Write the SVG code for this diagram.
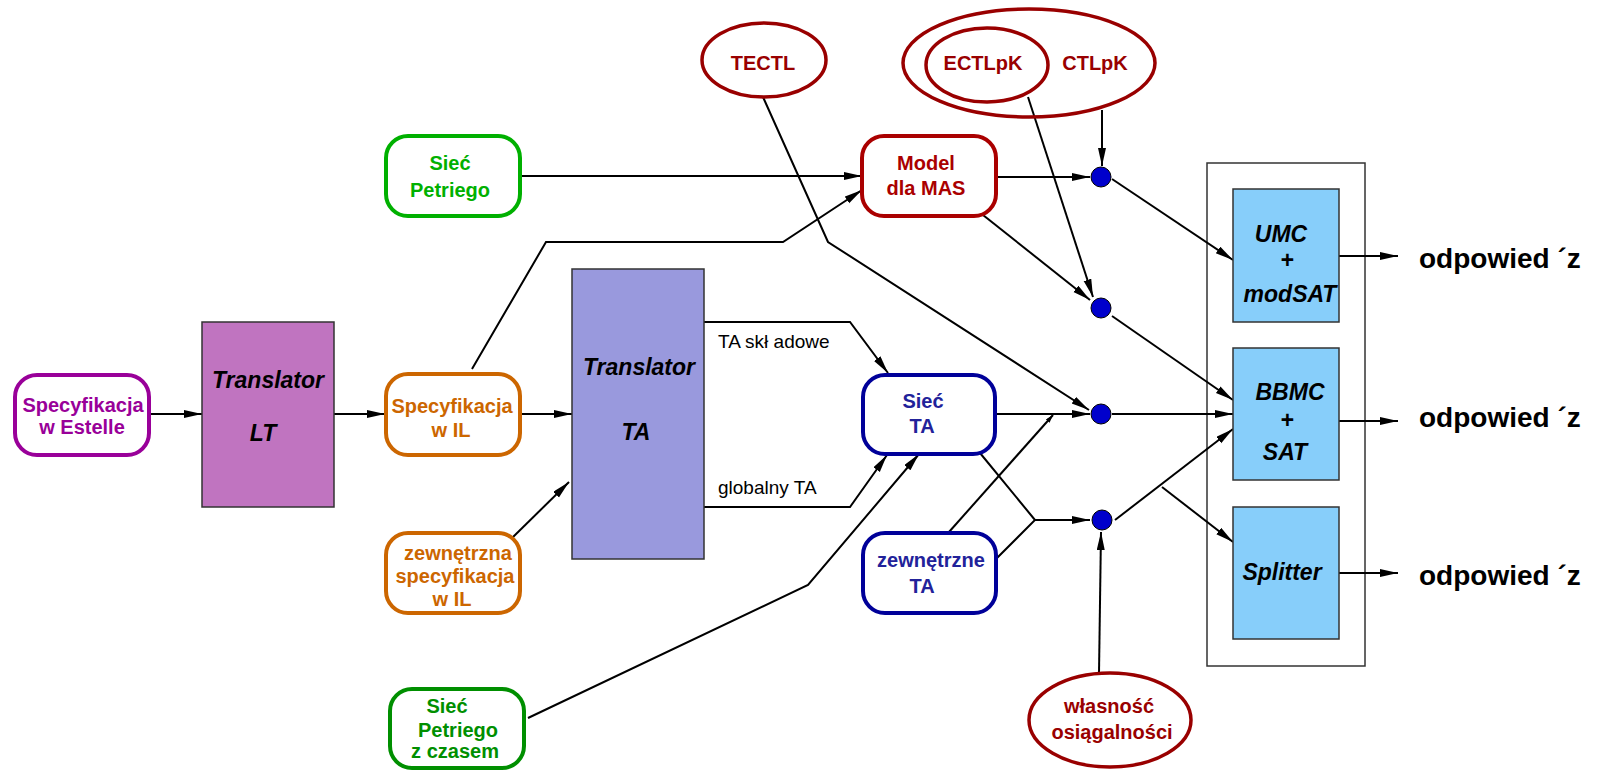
<svg xmlns="http://www.w3.org/2000/svg" width="1598" height="770" viewBox="0 0 1598 770">
<style>
text{font-family:"Liberation Sans",Arial,sans-serif;font-weight:bold;font-size:20px;text-anchor:middle}
.it{font-style:italic;font-size:23px;fill:#000}
.lbl{font-weight:normal;text-anchor:start;font-size:19px;fill:#000}
.ans{font-size:28px;text-anchor:start;fill:#000}
.rb{fill:#fff;stroke-width:4}
.el{fill:none;stroke:#990000;stroke-width:3.5}
.dot{fill:#0000CC;stroke:#000;stroke-width:1}
.mod{fill:#87CEFA;stroke:#333;stroke-width:1.5}
.c{fill:none;stroke:#000;stroke-width:2;marker-end:url(#ah)}
.cn{fill:none;stroke:#000;stroke-width:2}
</style>
<defs>
<marker id="ah" markerUnits="userSpaceOnUse" markerWidth="20" markerHeight="10" refX="18" refY="4" orient="auto"><path d="M0,0 L18,4 L0,8 z" fill="#000"/></marker>
<marker id="ahs" markerUnits="userSpaceOnUse" markerWidth="10" markerHeight="6" refX="8" refY="2.5" orient="auto"><path d="M0,0 L8,2.5 L0,5 z" fill="#000"/></marker>
</defs>
<rect x="1207" y="163" width="158" height="503" fill="#fff" stroke="#333" stroke-width="1.5"/>
<g id="connectors">
<path class="c" d="M150,414 L202,414"/>
<path class="c" d="M334,414 L385,414"/>
<path class="c" d="M520,414 L572,414"/>
<path class="c" d="M512,538 L569,482"/>
<path class="c" d="M472,369 L546,242 L783,242 L862,190"/>
<path class="c" d="M520,176 L862,176"/>
<path class="c" d="M704,322 L850,322 L888,373"/>
<path class="c" d="M704,507 L850,507 L887,455"/>
<path class="c" d="M528,718 L808,585 L919,454"/>
<path class="c" d="M763,97 L828,242 L1089,410"/>
<path class="c" d="M996,177 L1090,177"/>
<path class="c" d="M983,215 L1090,300"/>
<path class="c" d="M1028,97 L1093,297"/>
<path class="c" d="M1102,110 L1102,166"/>
<path class="c" d="M996,414 L1090,414"/>
<path class="cn" d="M949,532 L1053,415" marker-end="url(#ahs)"/>
<path class="cn" d="M980,453 L1035,520 L997,558"/>
<path class="c" d="M1035,520 L1090,520"/>
<path class="c" d="M1099,673 L1101,532"/>
<path class="c" d="M1112,179 L1233,260"/>
<path class="c" d="M1112,316 L1233,400"/>
<path class="c" d="M1112,414 L1233,414"/>
<path class="c" d="M1115,520 L1233,429"/>
<path class="c" d="M1162,487 L1233,542"/>
<path class="c" d="M1339,256 L1398,256"/>
<path class="c" d="M1339,421 L1398,421"/>
<path class="c" d="M1339,573 L1398,573"/>
</g>
<g id="estelle"><rect class="rb" x="15" y="375" width="134" height="80" rx="22" stroke="#990099"/><text x="83" y="412" fill="#990099">Specyfikacja</text><text x="82" y="434" fill="#990099">w Estelle</text></g>
<g id="lt"><rect x="202" y="322" width="132" height="185" fill="#C074C0" stroke="#333" stroke-width="1.5"/><text class="it" x="268" y="388">Translator</text><text class="it" x="263" y="441">LT</text></g>
<g id="specil"><rect class="rb" x="386" y="374" width="134" height="81" rx="22" stroke="#CC6600"/><text x="452" y="413" fill="#CC6600">Specyfikacja</text><text x="451" y="437" fill="#CC6600">w IL</text></g>
<g id="zewspec"><rect class="rb" x="386" y="533" width="134" height="80" rx="22" stroke="#CC6600"/><text x="458" y="560" fill="#CC6600">zewnętrzna</text><text x="455" y="583" fill="#CC6600">specyfikacja</text><text x="452" y="606" fill="#CC6600">w IL</text></g>
<g id="petri"><rect class="rb" x="386" y="136" width="134" height="80" rx="22" stroke="#00B000"/><text x="450" y="170" fill="#00B000">Sieć</text><text x="450" y="197" fill="#00B000">Petriego</text></g>
<g id="petriczas"><rect class="rb" x="390" y="689" width="134" height="79" rx="22" stroke="#008F00"/><text x="447" y="713" fill="#008F00">Sieć</text><text x="458" y="737" fill="#008F00">Petriego</text><text x="455" y="758" fill="#008F00">z czasem</text></g>
<g id="ta"><rect x="572" y="269" width="132" height="290" fill="#9999DD" stroke="#333" stroke-width="1.5"/><text class="it" x="639" y="375">Translator</text><text class="it" x="636" y="440">TA</text></g>
<text class="lbl" x="718" y="348">TA skł adowe</text>
<text class="lbl" x="718" y="494">globalny TA</text>
<g id="model"><rect class="rb" x="862" y="136" width="134" height="80" rx="22" stroke="#AA0000"/><text x="926" y="170" fill="#AA0000">Model</text><text x="926" y="195" fill="#AA0000">dla MAS</text></g>
<g id="siecta"><rect class="rb" x="863" y="375" width="132" height="79" rx="22" stroke="#000099"/><text x="923" y="408" fill="#22229A">Sieć</text><text x="922" y="433" fill="#22229A">TA</text></g>
<g id="zewta"><rect class="rb" x="863" y="533" width="133" height="80" rx="22" stroke="#000099"/><text x="931" y="567" fill="#22229A">zewnętrzne</text><text x="922" y="593" fill="#22229A">TA</text></g>
<g id="tectl"><ellipse class="el" cx="764" cy="60" rx="62" ry="37"/><text x="763" y="70" fill="#990000">TECTL</text></g>
<g id="ctlpk"><ellipse class="el" cx="1029" cy="63" rx="126" ry="54"/><ellipse class="el" cx="987" cy="65" rx="61" ry="37"/><text x="983" y="70" fill="#990000">ECTLpK</text><text x="1095" y="70" fill="#990000">CTLpK</text></g>
<g id="wlasnosc"><ellipse class="el" cx="1110" cy="720" rx="81" ry="47"/><text x="1109" y="713" fill="#990000">własność</text><text x="1112" y="739" fill="#990000">osiągalności</text></g>
<g id="dots"><circle class="dot" cx="1101" cy="177" r="10"/><circle class="dot" cx="1101" cy="308" r="10"/><circle class="dot" cx="1101" cy="414" r="10"/><circle class="dot" cx="1102" cy="520" r="10"/></g>
<g id="umc"><rect class="mod" x="1233" y="189" width="106" height="133"/><text class="it" x="1281" y="242">UMC</text><text class="it" x="1287" y="268">+</text><text class="it" x="1290" y="302">modSAT</text></g>
<g id="bbmc"><rect class="mod" x="1233" y="348" width="106" height="132"/><text class="it" x="1290" y="400">BBMC</text><text class="it" x="1287" y="428">+</text><text class="it" x="1285" y="460">SAT</text></g>
<g id="splitter"><rect class="mod" x="1233" y="507" width="106" height="132"/><text class="it" x="1282" y="580">Splitter</text></g>
<g id="answers"><text class="ans" x="1419" y="268">odpowied ´z</text><text class="ans" x="1419" y="427">odpowied ´z</text><text class="ans" x="1419" y="585">odpowied ´z</text></g>
</svg>
